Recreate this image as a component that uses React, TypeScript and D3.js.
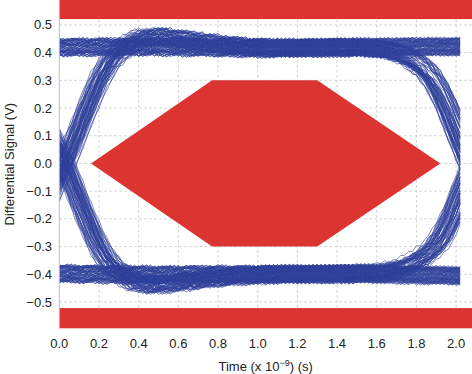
import React from "react";
import * as d3 from "d3";

const W = 472;
const H = 374;

// axis ticks
const xTicks = [0, 0.2, 0.4, 0.6, 0.8, 1.0, 1.2, 1.4, 1.6, 1.8, 2.0];
const yTicks = [-0.5, -0.4, -0.3, -0.2, -0.1, 0, 0.1, 0.2, 0.3, 0.4, 0.5];

// eye mask (red)
const maskHexT = [0.16, 0.77, 1.3, 1.92, 1.3, 0.77];
const maskHexV = [0, 0.3, 0.3, 0, -0.3, -0.3];
const maskTopBand = [0.521, 0.6];
const maskBottomBand = [-0.6, -0.522];

// steady logic levels across the unit interval
const levelT = [0, 0.5, 1.0, 1.5, 2.02];
const highLevel = [0.42, 0.422, 0.416, 0.42, 0.422];
const lowLevel = [-0.398, -0.402, -0.4, -0.398, -0.405];

// leading edge: fraction of swing completed vs time
const riseT = [-0.1, -0.05, 0, 0.03, 0.085, 0.14, 0.2, 0.25, 0.3, 0.4, 0.5, 0.6, 0.75, 0.9, 1.1];
const riseFrac = [0.22, 0.34, 0.44, 0.49, 0.61, 0.73, 0.855, 0.93, 0.98, 1.035, 1.045, 1.035, 1.02, 1.008, 1.0];

// trailing edge: fraction of swing departed vs time
const endT = [1.4, 1.5, 1.6, 1.7, 1.78, 1.85, 1.9, 1.95, 2.0, 2.05, 2.1];
const endFrac = [0, 0.002, 0.008, 0.028, 0.062, 0.11, 0.17, 0.26, 0.37, 0.48, 0.58];

// spreads
const startJitter = [-0.04, 0.03, -0.01, 0.045, -0.025, 0.0, 0.02, -0.035, 0.01, 0.035, -0.015, 0.005, -0.03, 0.025];
const endJitter = [-0.05, 0.02, -0.02, 0.045, 0.0, -0.035, 0.03, -0.01, 0.05, 0.01, -0.045];
const levelOffset = [0.0, 0.02, -0.025, 0.01, -0.012, 0.028, -0.02, 0.005, -0.03, 0.015, -0.006, 0.024, -0.016];
const ripple = [0, 0.005, -0.003, 0.006, -0.005, 0.002, -0.001, 0.007, -0.004, 0.003, -0.006, 0.001, 0.004, -0.002, 0.006, -0.007, 0.002, -0.003, 0.005];

const bitPatterns = [
  [0, 0, 0], [0, 0, 1], [0, 1, 0], [0, 1, 1],
  [1, 0, 0], [1, 0, 1], [1, 1, 0], [1, 1, 1],
];
const tracesPerPattern = 30;
const traceEnd = 2.02;
const sampleStep = 0.02;

const plotLeft = 59.3;
const plotRight = 472;
const plotTop = 0;
const plotBottom = 328.3;

const FONT = "'Liberation Sans', Arial, Helvetica, sans-serif";

export default function App() {
  const x = d3.scaleLinear().domain([0, 2.08]).range([plotLeft, plotRight]);
  const y = d3.scaleLinear().domain([-0.595, 0.59]).range([plotBottom, plotTop]);

  const hi = d3.scaleLinear().domain(levelT).range(highLevel).clamp(true);
  const lo = d3.scaleLinear().domain(levelT).range(lowLevel).clamp(true);
  const rise = d3.scaleLinear().domain(riseT).range(riseFrac).clamp(true);
  const fall = d3.scaleLinear().domain(endT).range(endFrac).clamp(true);
  const lev = (b: number, t: number) => (b ? hi(t) : lo(t));

  const nSamples = Math.round(traceEnd / sampleStep);
  const times = d3.range(nSamples + 1).map((k) => Math.min(k * sampleStep, traceEnd));

  const line = d3
    .line<[number, number]>()
    .x((d) => x(d[0]))
    .y((d) => y(d[1]));

  const traces: string[] = [];
  bitPatterns.forEach((pat, p) => {
    const [prev, cur, next] = pat;
    for (let i = 0; i < tracesPerPattern; i++) {
      const j1 = startJitter[(i + p * 2) % startJitter.length] + (prev === 1 && cur === 0 ? -0.015 : 0);
      const j2 = endJitter[(i * 7 + p * 3) % endJitter.length] + (cur === 0 && next === 1 ? 0.03 : 0);
      const off = levelOffset[(i * 5 + p) % levelOffset.length];
      const phase = i * 3 + p * 5;
      const pts: [number, number][] = times.map((t, k) => {
        const a = lev(prev, t);
        const b = lev(cur, t);
        const c = lev(next, t);
        const v =
          a + (b - a) * rise(t - j1) + (c - b) * fall(t - j2) + off + ripple[(k + phase) % ripple.length];
        return [t, v];
      });
      traces.push(line(pts) || "");
    }
  });

  const hexPts = maskHexT.map((t, i) => `${x(t)},${y(maskHexV[i])}`).join(" ");
  const fmt = d3.format(".1f");

  return (
    <svg
      width={W}
      height={H}
      viewBox={`0 0 ${W} ${H}`}
      style={{ position: "absolute", left: 0, top: 0, background: "#fff" }}
    >
      <defs>
        <clipPath id="plotClip">
          <rect x={plotLeft} y={plotTop} width={plotRight - plotLeft} height={plotBottom - plotTop} />
        </clipPath>
      </defs>
      {/* grid */}
      <g stroke="#c4c4c4" strokeWidth={0.8} strokeDasharray="2.5,2.5">
        {xTicks.filter((t) => t > 0).map((t) => (
          <line key={`gx${t}`} x1={x(t)} x2={x(t)} y1={plotTop} y2={plotBottom} />
        ))}
        {yTicks.map((t) => (
          <line key={`gy${t}`} x1={plotLeft} x2={plotRight} y1={y(t)} y2={y(t)} />
        ))}
      </g>
      {/* traces */}
      <g clipPath="url(#plotClip)" fill="none" stroke="#30429a" strokeWidth={0.7} strokeOpacity={0.9}>
        {traces.map((d, i) => (
          <path key={i} d={d} />
        ))}
      </g>
      {/* mask */}
      <g fill="#dc3430">
        <polygon points={hexPts} />
        <rect
          x={plotLeft}
          width={plotRight - plotLeft}
          y={Math.max(plotTop, y(maskTopBand[1]))}
          height={y(maskTopBand[0]) - Math.max(plotTop, y(maskTopBand[1]))}
        />
        <rect
          x={plotLeft}
          width={plotRight - plotLeft}
          y={y(maskBottomBand[1])}
          height={Math.min(plotBottom, y(maskBottomBand[0])) - y(maskBottomBand[1])}
        />
      </g>
      {/* left axis line */}
      <line x1={plotLeft} x2={plotLeft} y1={plotTop} y2={plotBottom} stroke="#b8b8dc" strokeWidth={1} />
      {/* tick labels */}
      <g fontFamily={FONT} fontSize={13} fill="#222">
        {yTicks.map((t) => (
          <text key={`ly${t}`} x={52} y={y(t)} dy="0.35em" textAnchor="end">
            {fmt(t)}
          </text>
        ))}
        {xTicks.map((t) => (
          <text key={`lx${t}`} x={x(t)} y={348.3} textAnchor="middle">
            {fmt(t)}
          </text>
        ))}
        <text x={(plotLeft + plotRight) / 2} y={371} textAnchor="middle">
          Time (x 10
          <tspan dy={-5} fontSize={9}>
            −9
          </tspan>
          <tspan dy={5}>) (s)</tspan>
        </text>
        <text transform={`translate(14,${(plotTop + plotBottom) / 2}) rotate(-90)`} textAnchor="middle">
          Differential Signal (V)
        </text>
      </g>
    </svg>
  );
}
